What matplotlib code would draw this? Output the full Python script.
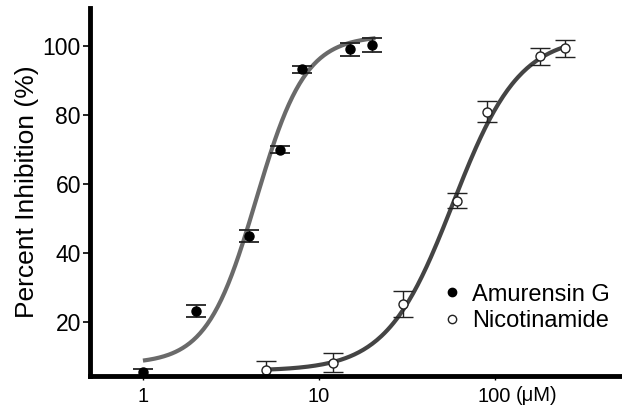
import numpy as np
import matplotlib
matplotlib.use("Agg")
import matplotlib.pyplot as plt
from matplotlib.ticker import NullLocator, FixedLocator, FixedFormatter
from matplotlib.lines import Line2D

plt.rcParams['font.family'] = ['Liberation Sans', 'DejaVu Sans']

# Data (concentration in uM, percent inhibition, error)
amu_x = [1, 2, 4, 6, 8, 15, 20]
amu_y = [5.6, 23.3, 45.0, 70.0, 93.3, 99.0, 100.3]
amu_err = [1.0, 1.8, 1.7, 1.0, 1.0, 1.9, 2.0]

nic_x = [5, 12, 30, 61, 91, 182, 250]
nic_y = [6.3, 8.4, 25.3, 55.2, 81.0, 97.0, 99.3]
nic_err = [2.4, 2.8, 3.8, 2.2, 3.1, 2.5, 2.5]

# Fitted Hill parameters: bottom, top, IC50, slope, fit range
amu_fit = dict(bottom=8.0, top=103.0, ic50=4.4, hill=3.1, lo=1.0, hi=21.0)
nic_fit = dict(bottom=6.0, top=103.0, ic50=58.0, hill=2.3, lo=5.0, hi=250.0)

x_ticks = [1, 10, 100]
x_ticklabels = ['1', '10', '100']
y_ticks = [20, 40, 60, 80, 100]

fig = plt.figure(figsize=(6.22, 4.11), dpi=100)
ax = fig.add_axes([0.1447, 0.0852, 0.853, 0.8953])

def hill(x, p):
    return p['bottom'] + (p['top'] - p['bottom']) / (1 + (p['ic50'] / x) ** p['hill'])

xa = np.logspace(np.log10(amu_fit['lo']), np.log10(amu_fit['hi']), 200)
xn = np.logspace(np.log10(nic_fit['lo']), np.log10(nic_fit['hi']), 200)
ax.plot(xa, hill(xa, amu_fit), color='#6a6a6a', lw=3.0, zorder=2, solid_capstyle='butt')
ax.plot(xn, hill(xn, nic_fit), color='#444444', lw=3.0, zorder=2, solid_capstyle='butt')

ax.errorbar(amu_x, amu_y, yerr=amu_err, fmt='o', ms=6.5, mfc='black', mec='black',
            ecolor='#222222', elinewidth=1.0, capsize=7, capthick=1.3, zorder=3,
            label='Amurensin G')
ax.errorbar(nic_x, nic_y, yerr=nic_err, fmt='o', ms=6.5, mfc='white', mec='#222222',
            mew=1.0, ecolor='#222222', elinewidth=1.0, capsize=7, capthick=1.3, zorder=3,
            label='Nicotinamide')

ax.set_xscale('log')
ax.set_xlim(0.5, 520)
ax.set_ylim(4.5, 111)

ax.xaxis.set_major_locator(FixedLocator(x_ticks))
ax.xaxis.set_major_formatter(FixedFormatter(x_ticklabels))
ax.xaxis.set_minor_locator(NullLocator())
ax.set_yticks(y_ticks)

for s in ['top', 'right']:
    ax.spines[s].set_visible(False)
ax.spines['left'].set_linewidth(3.5)
ax.spines['bottom'].set_linewidth(3.5)
ax.spines['left'].set_zorder(5)
ax.spines['bottom'].set_zorder(5)

ax.tick_params(axis='y', direction='out', length=5, width=1.2, pad=1.5, labelsize=16.5)
ax.tick_params(axis='x', direction='out', length=3, width=1.0, pad=5, labelsize=14.5)

ax.annotate('(\u03bcM)', xy=(100, 0), xycoords=('data', 'axes fraction'),
            xytext=(15, -7.2), textcoords='offset points', ha='left', va='top',
            fontsize=14.5)

ax.set_ylabel('Percent Inhibition (%)', fontsize=19, labelpad=3)

handles = [Line2D([], [], marker='o', ls='none', ms=6, mfc='black', mec='black'),
           Line2D([], [], marker='o', ls='none', ms=6, mfc='white', mec='#222222', mew=1.0)]
ax.legend(handles, ['Amurensin G', 'Nicotinamide'], loc='upper left',
          bbox_to_anchor=(0.634, 0.296), frameon=False, fontsize=17,
          handlelength=0.8, handletextpad=0.45, labelspacing=0.2, borderpad=0.2)

fig.savefig('out.png', dpi=100)
